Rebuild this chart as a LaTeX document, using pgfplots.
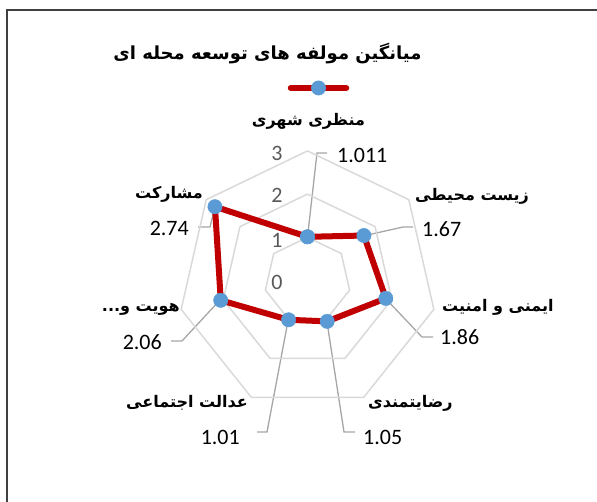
\documentclass[border=0pt]{standalone}
\usepackage{fontspec}
\usepackage{pgfplots}
\usepackage{pgfplotstable}
\pgfplotsset{compat=1.18}
\setmainfont{Carlito}
\newfontfamily\fa[Script=Arabic]{DejaVu Sans}
\TeXXeTstate=1

\definecolor{serieRed}{HTML}{C00000}
\definecolor{dotBlue}{HTML}{5B9BD5}
\definecolor{ringGray}{HTML}{D9D9D9}
\definecolor{leaderGray}{HTML}{A6A6A6}
\definecolor{tickGray}{HTML}{595959}
\definecolor{frameGray}{HTML}{404040}

% spokes clockwise from the top: angle (deg, ccw from east), mean score
\pgfplotstableread{
ang      val
90       1.011
38.571   1.67
-12.857  1.86
-64.286  1.05
-115.714 1.01
-167.143 2.06
-218.571 2.74
90       1.011
}\scores

% polygon grid rings
\pgfplotstableread{
ang      r1 r2 r3
90       1 2 3
38.571   1 2 3
-12.857  1 2 3
-64.286  1 2 3
-115.714 1 2 3
-167.143 1 2 3
-218.571 1 2 3
90       1 2 3
}\rings

\newcommand{\catfont}{\fa\bfseries\fontsize{16}{18}\selectfont}
\newcommand{\numfont}{\fontsize{22}{26}\selectfont}

\begin{document}
\begin{tikzpicture}[x=1pt,y=1pt]
\useasboundingbox (0,0) rectangle (597,501);
\draw[frameGray, line width=1.5pt] (7,-5) -- (7,491) -- (605,491);

% leader lines
\begin{scope}[leaderGray, line width=1.3pt]
\draw (307.5,264) -- (317,348) -- (327,348);
\draw (363,265) -- (403,274) -- (413,274);
\draw (385,203) -- (422,164) -- (433,164);
\draw (327,179) -- (344,69) -- (355,69);
\draw (288,180) -- (267,69) -- (257,69);
\draw (220,201) -- (182,160) -- (171,160);
\draw (215,294) -- (210,274) -- (198,274);
\end{scope}

\begin{axis}[
    at={(307.5pt,220.5pt)}, anchor=origin,
    x=43.2pt, y=43.2pt,
    xmin=-3.2, xmax=3.2, ymin=-3.2, ymax=3.2,
    hide axis, clip=false,
    data cs=polar,
    legend style={at={(0.5416,1.1963)}, anchor=center, draw=none, fill=none,
        inner sep=0pt, outer sep=0pt, nodes={inner sep=0pt, outer sep=0pt}},
    legend image code/.code={
        \draw[mark repeat=2, mark phase=2] plot coordinates {(0pt,0pt) (27.75pt,0pt) (55.5pt,0pt)};},
]
\addplot[ringGray, line width=1.5pt, no marks, forget plot] table[x=ang, y=r1] {\rings};
\addplot[ringGray, line width=1.5pt, no marks, forget plot] table[x=ang, y=r2] {\rings};
\addplot[ringGray, line width=1.5pt, no marks, forget plot] table[x=ang, y=r3] {\rings};
\addplot[serieRed, line width=6pt, line join=round, line cap=round,
    mark=*, mark size=7.2pt,
    mark options={solid, fill=dotBlue, draw=dotBlue, line width=0.4pt}]
    table[x=ang, y=val] {\scores};
\addlegendentry{}
\end{axis}

% radial tick labels
\begin{scope}[tickGray, font=\numfont]
\node at (277,219) {0};
\node at (277,261) {1};
\node at (277,306) {2};
\node at (277,348) {3};
\end{scope}

% value labels
\begin{scope}[font=\numfont, inner sep=0pt]
\node[anchor=west] at (337,346) {1.011};
\node[anchor=west] at (422,272) {1.67};
\node[anchor=west] at (440,164) {1.86};
\node[anchor=west] at (363,64) {1.05};
\node[anchor=east] at (240,64) {1.01};
\node[anchor=east] at (162,159) {2.06};
\node[anchor=east] at (189,273) {2.74};
\end{scope}

% category labels
\begin{scope}[font=\catfont, inner sep=0pt]
\node[anchor=base] at (308.4,375) {\beginR منظری شهری\endR};
\node[anchor=base west] at (415,300) {\beginR زیست محیطی\endR};
\node[anchor=base west] at (442,189) {\beginR ایمنی و امنیت\endR};
\node[anchor=base west] at (368,94) {\beginR رضایتمندی\endR};
\node[anchor=base east] at (248,94) {\beginR عدالت اجتماعی\endR};
\node[anchor=base east] at (180,189) {\beginR هویت و...\endR};
\node[anchor=base east] at (203,302) {\beginR مشارکت\endR};
\end{scope}

\node[font=\fa\bfseries\fontsize{18}{21}\selectfont, inner sep=0pt, anchor=base]
    at (267.5,441) {\beginR میانگین مولفه های توسعه محله ای\endR};
\end{tikzpicture}
\end{document}
